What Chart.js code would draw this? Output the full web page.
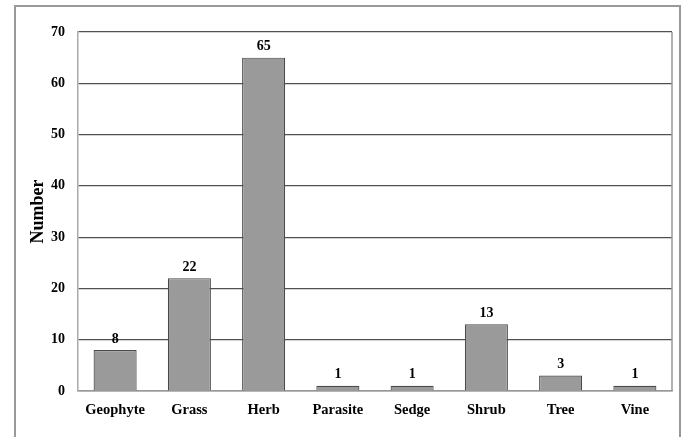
<!DOCTYPE html>
<html>
<head>
<meta charset="utf-8">
<script src="https://cdn.jsdelivr.net/npm/chart.js@4/dist/chart.umd.min.js"></script>
<style>
  html, body { margin: 0; padding: 0; background: #fff; }
  #wrap { position: relative; width: 685px; height: 437px; overflow: hidden; }
  #frame {
    position: absolute; left: 14px; top: 5px; width: 667px; height: 500px;
    box-sizing: border-box; border: 2px solid #999; border-bottom: none;
  }
  #myChart { position: absolute; left: 0; top: 0; }
</style>
</head>
<body>
<div id="wrap">
  <div id="frame"></div>
  <canvas id="myChart" width="685" height="437"></canvas>
</div>
<script>
const categories = ['Geophyte', 'Grass', 'Herb', 'Parasite', 'Sedge', 'Shrub', 'Tree', 'Vine'];
const counts = [8, 22, 65, 1, 1, 13, 3, 1];
const yTicks = [0, 10, 20, 30, 40, 50, 60, 70];

const serif = "'Liberation Serif', 'Times New Roman', serif";

// writes the count above each bar, and closes the plot box on the right
const barValues = {
    id: 'barValues',
    afterDatasetsDraw(chart) {
        const ctx = chart.ctx;
        const area = chart.chartArea;
        ctx.save();
        ctx.strokeStyle = '#999';
        ctx.lineWidth = 1.5;
        ctx.beginPath();
        ctx.moveTo(area.right, area.top);
        ctx.lineTo(area.right, area.bottom);
        ctx.stroke();

        ctx.font = "bold 14px " + serif;
        ctx.fillStyle = '#000';
        ctx.textAlign = 'center';
        ctx.textBaseline = 'middle';
        chart.getDatasetMeta(0).data.forEach((bar, i) => {
            ctx.fillText(counts[i], bar.x, bar.y - 11);
        });
        ctx.restore();
    }
};

new Chart(document.getElementById('myChart'), {
    type: 'bar',
    data: {
        labels: categories,
        datasets: [{
            data: counts,
            backgroundColor: '#9a9a9a',
            borderColor: '#4a4a4a',
            borderWidth: 1.2,
            barPercentage: 0.58,
            categoryPercentage: 1
        }]
    },
    options: {
        responsive: false,
        animation: false,
        layout: { padding: { left: 0, top: 32, right: 13, bottom: 0 } },
        plugins: {
            legend: { display: false },
            tooltip: { enabled: false }
        },
        scales: {
            x: {
                afterFit(scale) { scale.height = 46; },
                grid: { display: false, drawTicks: false },
                border: { display: true, color: '#999', width: 1.5 },
                ticks: {
                    color: '#000',
                    padding: 11,
                    font: { family: serif, size: 14.5, weight: 'bold' }
                }
            },
            y: {
                min: 0,
                max: 70,
                afterFit(scale) { scale.width = 78; },
                afterBuildTicks(scale) { scale.ticks = yTicks.map(v => ({ value: v })); },
                grid: { color: '#505050', lineWidth: 1.2, drawTicks: false },
                border: { display: true, color: '#aaa', width: 1.5 },
                ticks: {
                    color: '#000',
                    padding: 13,
                    font: { family: serif, size: 14, weight: 'bold' }
                },
                title: {
                    display: true,
                    text: 'Number',
                    color: '#000',
                    padding: { top: 28, bottom: 0 },
                    font: { family: serif, size: 18, weight: 'bold' }
                }
            }
        }
    },
    plugins: [barValues]
});
</script>
</body>
</html>
